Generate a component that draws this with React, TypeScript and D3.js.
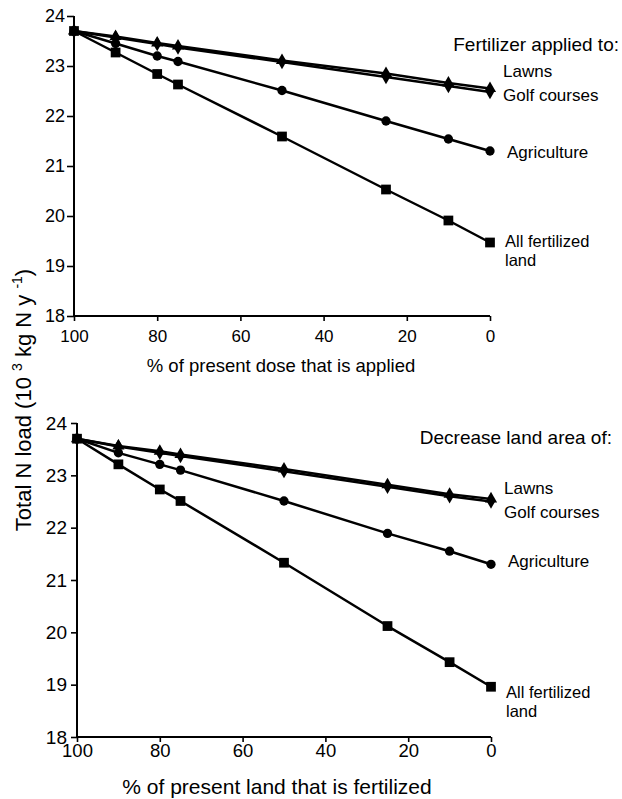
import React, { useEffect, useRef } from "react";
import * as d3 from "d3";

const xValues = [100, 90, 80, 75, 50, 25, 10, 0];
const yTicks = [18, 19, 20, 21, 22, 23, 24];
const xTicks = [100, 80, 60, 40, 20, 0];

// Panel A: fertilizer dose
const doseAll = [23.7, 23.27, 22.84, 22.63, 21.59, 20.53, 19.91, 19.47];
const doseAgri = [23.7, 23.45, 23.2, 23.09, 22.51, 21.9, 21.54, 21.3];
const doseLawns = [23.7, 23.59, 23.46, 23.4, 23.11, 22.85, 22.66, 22.55];
const doseGolf = [23.7, 23.57, 23.44, 23.37, 23.08, 22.78, 22.6, 22.48];

// Panel B: land area
const landAll = [23.7, 23.21, 22.73, 22.51, 21.33, 20.12, 19.43, 18.96];
const landAgri = [23.7, 23.43, 23.21, 23.1, 22.51, 21.89, 21.55, 21.3];
const landLawns = [23.7, 23.56, 23.46, 23.4, 23.12, 22.82, 22.64, 22.55];
const landGolf = [23.7, 23.55, 23.43, 23.37, 23.08, 22.78, 22.6, 22.5];

const seriesNames = ["Lawns", "Golf courses", "Agriculture", "All fertilized", "land"];

const FONT = "'Liberation Sans', Arial, Helvetica, sans-serif";

type Panel = {
  top: number;
  bottom: number;
  left: number;
  right: number;
  title: string;
  legendTitle: string;
  series: { values: number[]; marker: string }[];
  titleX: number;
  titleY: number;
  titleSize: number;
  yTickSize: number;
  xTickSize: number;
  yTickLen: number;
  yTickPad: number;
  xTickPad: number;
  legendTitleY: number;
  legendTitleX: number;
  labelX: number;
  labelYs: number[];
};

export default function App() {
  const ref = useRef<SVGSVGElement>(null);

  useEffect(() => {
    const svg = d3.select(ref.current);
    svg.selectAll("*").remove();

    const panels: Panel[] = [
      {
        top: 16, bottom: 316, left: 74, right: 490,
        title: "% of present dose that is applied",
        legendTitle: "Fertilizer applied to:",
        series: [
          { values: doseGolf, marker: "diamond" },
          { values: doseLawns, marker: "triangle" },
          { values: doseAgri, marker: "circle" },
          { values: doseAll, marker: "square" },
        ],
        titleX: 281,
        titleY: 372,
        titleSize: 18.5,
        yTickSize: 18,
        xTickSize: 17,
        yTickLen: 7,
        yTickPad: 2,
        xTickPad: 9,
        legendTitleY: 51,
        legendTitleX: 619,
        labelX: 503,
        labelYs: [77, 101, 158, 247, 266],
      },
      {
        top: 423, bottom: 737, left: 77, right: 491,
        title: "% of present land that is fertilized",
        legendTitle: "Decrease land area of:",
        series: [
          { values: landGolf, marker: "diamond" },
          { values: landLawns, marker: "triangle" },
          { values: landAgri, marker: "circle" },
          { values: landAll, marker: "square" },
        ],
        titleX: 277,
        titleY: 794,
        titleSize: 21,
        yTickSize: 19,
        xTickSize: 18.5,
        yTickLen: 6,
        yTickPad: 4,
        xTickPad: 2,
        legendTitleY: 444,
        legendTitleX: 612,
        labelX: 504,
        labelYs: [494, 518, 567, 698, 717],
      },
    ];

    panels.forEach((p) => {
      const x = d3.scaleLinear().domain([100, 0]).range([p.left, p.right]);
      const y = d3.scaleLinear().domain([18, 24]).range([p.bottom, p.top]);
      const g = svg.append("g");

      // y axis
      const ya = g.append("g").attr("transform", `translate(${p.left},0)`)
        .call(d3.axisLeft(y).tickValues(yTicks).tickSize(p.yTickLen).tickPadding(p.yTickPad).tickFormat(d3.format("d")));
      ya.select(".domain").attr("stroke-width", 2).attr("d", `M0,${p.top}V${p.bottom}`);
      ya.selectAll(".tick line").attr("stroke-width", 1.6);
      ya.selectAll("text").attr("font-family", FONT).attr("font-size", p.yTickSize).attr("fill", "#000");

      // x axis
      const xa = g.append("g").attr("transform", `translate(0,${p.bottom})`)
        .call(d3.axisBottom(x).tickValues(xTicks).tickSize(5).tickPadding(p.xTickPad).tickFormat(d3.format("d")));
      xa.select(".domain").attr("stroke-width", 2).attr("d", `M${p.left},0H${p.right}`);
      xa.selectAll(".tick line").attr("stroke-width", 1.6);
      xa.selectAll("text").attr("font-family", FONT).attr("font-size", p.xTickSize).attr("fill", "#000");

      // x title
      g.append("text").attr("x", p.titleX).attr("y", p.titleY)
        .attr("text-anchor", "middle").attr("font-family", FONT).attr("font-size", p.titleSize)
        .text(p.title);

      const line = d3.line<number>().x((_, i) => x(xValues[i])).y((d) => y(d));

      p.series.forEach((s) => {
        g.append("path").attr("d", line(s.values)).attr("fill", "none")
          .attr("stroke", "#000").attr("stroke-width", 2.5).attr("stroke-linejoin", "round");
        const symType =
          s.marker === "square" ? d3.symbolSquare :
          s.marker === "circle" ? d3.symbolCircle :
          s.marker === "triangle" ? d3.symbolTriangle : d3.symbolDiamond;
        const size = s.marker === "square" ? 95 : s.marker === "circle" ? 68 : s.marker === "triangle" ? 64 : 60;
        const sym = d3.symbol().type(symType).size(size);
        g.selectAll(null).data(s.values).enter().append("path")
          .attr("d", sym())
          .attr("transform", (d, i) => `translate(${x(xValues[i])},${y(d)})`)
          .attr("fill", "#000");
      });

      // legend
      g.append("text").attr("x", p.legendTitleX).attr("y", p.legendTitleY)
        .attr("text-anchor", "end").attr("font-family", FONT).attr("font-size", 19)
        .text(p.legendTitle);
      seriesNames.forEach((t, i) => {
        g.append("text").attr("x", p.labelX + (i === 2 ? 4 : i >= 3 ? 2 : 0)).attr("y", p.labelYs[i])
          .attr("font-family", FONT).attr("font-size", i >= 3 ? 16.5 : 17).text(t);
      });
    });

    // shared y title
    const yt = svg.append("text")
      .attr("transform", "translate(31,400) rotate(-90)")
      .attr("text-anchor", "middle").attr("font-family", FONT).attr("font-size", 22);
    yt.append("tspan").text("Total N load (10 ");
    yt.append("tspan").attr("font-size", 14).attr("dy", -9).text("3");
    yt.append("tspan").attr("dy", 9).text(" kg N y ");
    yt.append("tspan").attr("font-size", 14).attr("dy", -9).text("-1");
    yt.append("tspan").attr("dy", 9).text(")");
  }, []);

  return (
    <svg ref={ref} width={622} height={799}
      style={{ position: "absolute", left: 0, top: 0, background: "#fff" }} />
  );
}
